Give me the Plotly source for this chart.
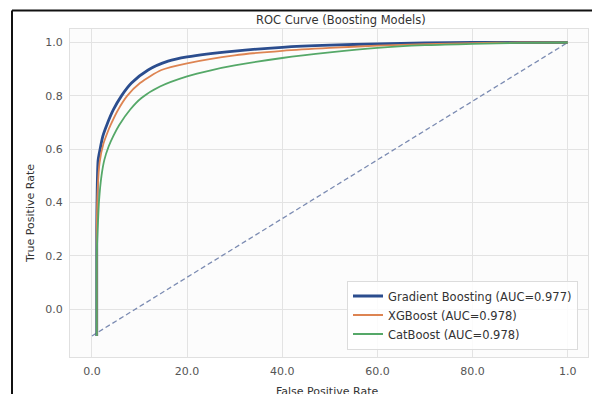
import plotly.graph_objects as go

# ROC curve points
gb_fpr = [0.01, 0.01, 0.011, 0.013, 0.017, 0.023, 0.031, 0.045, 0.062, 0.083, 0.118, 0.16, 0.2, 0.3, 0.4, 0.5, 0.6, 0.7, 0.8, 1.0]
gb_tpr = [-0.1, 0.3, 0.45, 0.56, 0.6, 0.65, 0.69, 0.748, 0.8, 0.848, 0.897, 0.93, 0.946, 0.968, 0.982, 0.99, 0.995, 0.999, 1.0, 1.0]

xgb_fpr = [0.01, 0.01, 0.012, 0.016, 0.024, 0.032, 0.039, 0.055, 0.074, 0.101, 0.146, 0.2, 0.3, 0.4, 0.5, 0.6, 0.7, 0.8, 0.9, 1.0]
xgb_tpr = [-0.1, 0.3, 0.45, 0.55, 0.62, 0.66, 0.69, 0.748, 0.8, 0.848, 0.897, 0.922, 0.952, 0.969, 0.98, 0.988, 0.994, 0.998, 1.0, 1.0]

cat_fpr = [0.01, 0.01, 0.012, 0.015, 0.02, 0.026, 0.035, 0.045, 0.057, 0.08, 0.104, 0.143, 0.2, 0.25, 0.3, 0.4, 0.5, 0.6, 0.7, 0.8, 0.9, 1.0]
cat_tpr = [-0.1, 0.2, 0.3, 0.41, 0.5, 0.56, 0.61, 0.65, 0.69, 0.748, 0.792, 0.835, 0.873, 0.896, 0.914, 0.942, 0.963, 0.98, 0.99, 0.995, 0.999, 1.0]

diag_x = [0.0, 1.0]
diag_y = [-0.1, 1.0]

labels = ["Gradient Boosting (AUC=0.977)", "XGBoost (AUC=0.978)", "CatBoost (AUC=0.978)"]
x_tickvals = [0.0, 0.2, 0.4, 0.6, 0.8, 1.0]
x_ticktext = ["0.0", "20.0", "40.0", "60.0", "80.0", "1.0"]
y_tickvals = [0.0, 0.2, 0.4, 0.6, 0.8, 1.0]
y_ticktext = ["0.0", "0.2", "0.4", "0.6", "0.8", "1.0"]

FONT = "DejaVu Sans"
fig = go.Figure()
fig.add_trace(go.Scatter(x=diag_x, y=diag_y, mode="lines", showlegend=False,
                         line=dict(color="#7b8bb2", width=1.3, dash="5px,3px")))
fig.add_trace(go.Scatter(x=gb_fpr, y=gb_tpr, mode="lines", name=labels[0],
                         line=dict(color="#2b4d8e", width=2.8, shape="spline", smoothing=0.7)))
fig.add_trace(go.Scatter(x=xgb_fpr, y=xgb_tpr, mode="lines", name=labels[1],
                         line=dict(color="#dd8452", width=1.8, shape="spline", smoothing=0.7)))
fig.add_trace(go.Scatter(x=cat_fpr, y=cat_tpr, mode="lines", name=labels[2],
                         line=dict(color="#55a868", width=1.8, shape="spline", smoothing=0.7)))

L, T, W, H = 70, 29, 518, 328
def px(x):
    return (x - L) / W
def py(y):
    return (T + H - y) / H

fig.update_layout(
    width=592, height=394,
    margin=dict(l=L, r=592 - L - W, t=T, b=394 - T - H),
    paper_bgcolor="white", plot_bgcolor="#fcfcfc",
    font=dict(family=FONT, size=11, color="#444"),
    showlegend=True,
    legend=dict(x=px(578), y=py(349.5), xanchor="right", yanchor="bottom",
                bgcolor="rgba(255,255,255,0.85)", bordercolor="#dcdcdc", borderwidth=1,
                itemwidth=30,
                font=dict(family=FONT, size=11.5, color="#333")),
    xaxis=dict(range=[-0.0462, 1.0427], tickvals=x_tickvals, ticktext=x_ticktext,
               showgrid=True, gridcolor="#e3e3e3", gridwidth=1, zeroline=False,
               showline=True, linecolor="#e0e0e0", mirror=True,
               ticks="outside", ticklen=4, tickcolor="rgba(0,0,0,0)",
               tickfont=dict(size=11, color="#555")),
    yaxis=dict(range=[-0.179, 1.0507], tickvals=y_tickvals, ticktext=y_ticktext,
               showgrid=True, gridcolor="#e3e3e3", gridwidth=1, zeroline=False,
               showline=True, linecolor="#e0e0e0", mirror=True,
               ticks="outside", ticklen=4, tickcolor="rgba(0,0,0,0)",
               tickfont=dict(size=11, color="#555")),
    annotations=[
        dict(text="ROC Curve (Boosting Models)", xref="paper", yref="paper",
             x=px(341), y=py(20), showarrow=False, xanchor="center", yanchor="middle",
             font=dict(family=FONT, size=11.5, color="#333")),
        dict(text="True Positive Rate", xref="paper", yref="paper",
             x=px(31), y=py(214), showarrow=False, xanchor="center", yanchor="middle",
             textangle=-90, font=dict(family=FONT, size=11, color="#333")),
        dict(text="False Positive Rate", xref="paper", yref="paper",
             x=px(327), y=py(391), showarrow=False, xanchor="center", yanchor="middle",
             font=dict(family=FONT, size=11, color="#333")),
    ],
    shapes=[
        dict(type="line", xref="paper", yref="paper", x0=px(12), x1=px(600), y0=py(10.5), y1=py(10.5),
             line=dict(color="#111", width=2)),
        dict(type="line", xref="paper", yref="paper", x0=px(12), x1=px(12), y0=py(10.5), y1=py(400),
             line=dict(color="#111", width=2)),
    ],
)

fig.write_html("out.html", config={"displayModeBar": False},
               post_script="document.body.style.margin='0';document.body.style.overflow='hidden';")
